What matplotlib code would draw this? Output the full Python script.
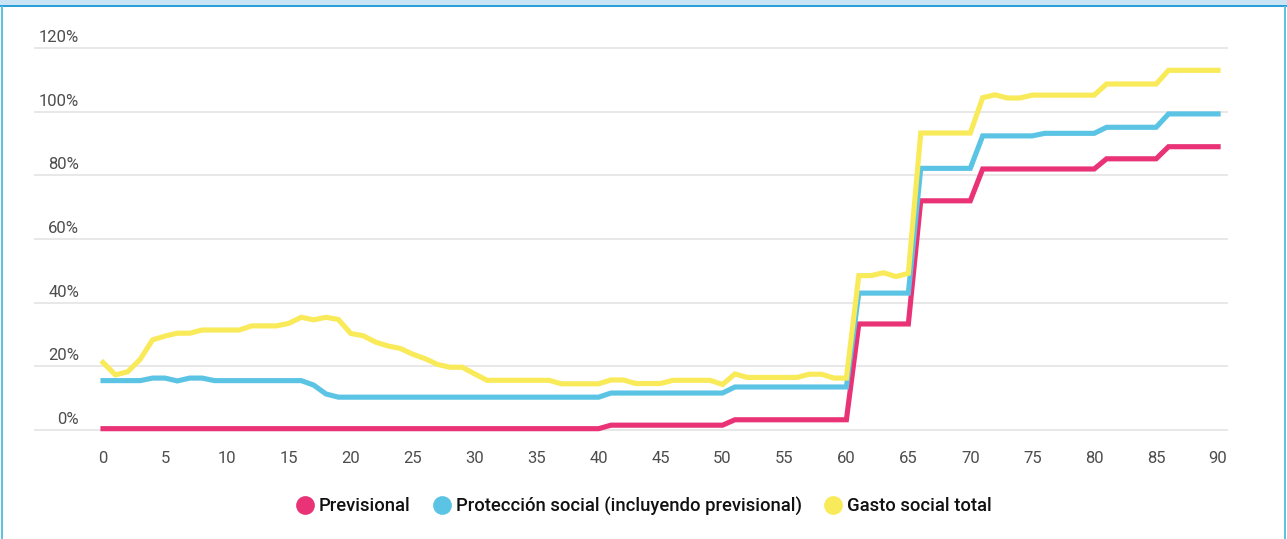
import matplotlib
matplotlib.use("Agg")
import matplotlib.pyplot as plt
from matplotlib.lines import Line2D
from matplotlib.patches import Rectangle

plt.rcParams["font.family"] = ["Roboto", "DejaVu Sans"]

# edad (0 a 90) y gasto como % del ingreso
ages = list(range(91))

previsional = [
    0.4, 0.4, 0.4, 0.4, 0.4, 0.4, 0.4, 0.4, 0.4, 0.4,
    0.4, 0.4, 0.4, 0.4, 0.4, 0.4, 0.4, 0.4, 0.4, 0.4,
    0.4, 0.4, 0.4, 0.4, 0.4, 0.4, 0.4, 0.4, 0.4, 0.4,
    0.4, 0.4, 0.4, 0.4, 0.4, 0.4, 0.4, 0.4, 0.4, 0.4,
    0.4, 1.5, 1.5, 1.5, 1.5, 1.5, 1.5, 1.5, 1.5, 1.5,
    1.5, 3.2, 3.2, 3.2, 3.2, 3.2, 3.2, 3.2, 3.2, 3.2,
    3.2, 33.3, 33.3, 33.3, 33.3, 33.3, 72.0, 72.0, 72.0, 72.0,
    72.0, 82.0, 82.0, 82.0, 82.0, 82.0, 82.0, 82.0, 82.0, 82.0,
    82.0, 85.2, 85.2, 85.2, 85.2, 85.2, 89.0, 89.0, 89.0, 89.0,
    89.0,
]

proteccion = [
    15.5, 15.5, 15.5, 15.5, 16.3, 16.3, 15.4, 16.3, 16.3, 15.5,
    15.5, 15.5, 15.5, 15.5, 15.5, 15.5, 15.5, 14.1, 11.3, 10.3,
    10.3, 10.3, 10.3, 10.3, 10.3, 10.3, 10.3, 10.3, 10.3, 10.3,
    10.3, 10.3, 10.3, 10.3, 10.3, 10.3, 10.3, 10.3, 10.3, 10.3,
    10.3, 11.6, 11.6, 11.6, 11.6, 11.6, 11.6, 11.6, 11.6, 11.6,
    11.6, 13.5, 13.5, 13.5, 13.5, 13.5, 13.5, 13.5, 13.5, 13.5,
    13.5, 43.0, 43.0, 43.0, 43.0, 43.0, 82.2, 82.2, 82.2, 82.2,
    82.2, 92.4, 92.4, 92.4, 92.4, 92.4, 93.2, 93.2, 93.2, 93.2,
    93.2, 95.1, 95.1, 95.1, 95.1, 95.1, 99.3, 99.3, 99.3, 99.3,
    99.3,
]

gasto_total = [
    21.2, 17.3, 18.3, 22.2, 28.3, 29.5, 30.4, 30.4, 31.4, 31.4,
    31.4, 31.4, 32.7, 32.7, 32.7, 33.5, 35.4, 34.6, 35.4, 34.7,
    30.3, 29.6, 27.6, 26.4, 25.6, 23.8, 22.4, 20.6, 19.7, 19.7,
    17.6, 15.6, 15.6, 15.6, 15.6, 15.6, 15.6, 14.5, 14.5, 14.5,
    14.5, 15.7, 15.7, 14.6, 14.6, 14.6, 15.6, 15.6, 15.6, 15.6,
    14.3, 17.6, 16.5, 16.5, 16.5, 16.5, 16.5, 17.5, 17.5, 16.3,
    16.3, 48.5, 48.5, 49.4, 48.2, 49.2, 93.3, 93.3, 93.3, 93.3,
    93.3, 104.4, 105.3, 104.3, 104.3, 105.2, 105.2, 105.2, 105.2, 105.2,
    105.2, 108.7, 108.7, 108.7, 108.7, 108.7, 113.0, 113.0, 113.0, 113.0,
    113.0,
]

series_names = ["Previsional", "Protección social (incluyendo previsional)", "Gasto social total"]
colors = ["#E93376", "#5BC4E4", "#F9EA5A"]
x_ticks = list(range(0, 91, 5))
y_ticks = list(range(0, 121, 20))

W, H = 1287, 539
fig = plt.figure(figsize=(W / 100, H / 100), dpi=100)

# marco azul del contenedor
fig.patches.append(Rectangle((0, 1 - 5 / H), 1, 5 / H, transform=fig.transFigure,
                             facecolor="#C9E5F5", edgecolor="none"))
fig.patches.append(Rectangle((0, 1 - 6.5 / H), 1, 2 / H, transform=fig.transFigure,
                             facecolor="#2B9FD8", edgecolor="none"))
fig.patches.append(Rectangle((1 / W, 0), 2 / W, 1 - 6 / H, transform=fig.transFigure,
                             facecolor="#5BC4E4", edgecolor="none"))
fig.patches.append(Rectangle((1 - 3 / W, 0), 2 / W, 1 - 6 / H, transform=fig.transFigure,
                             facecolor="#5BC4E4", edgecolor="none"))

ax = fig.add_axes([34 / W, (H - 439.5) / H, 1194 / W, 401 / H])
ax.set_xlim(-5.57, 90.8)
ax.set_ylim(-3, 123)

for v in y_ticks:
    ax.axhline(v, color="#E6E6E6", lw=1.3, zorder=0)
    ax.text(0.0377, v + 1.9, f"{v}%", transform=ax.get_yaxis_transform(),
            ha="right", va="baseline", fontsize=12, color="#4D4D4D")

for vals, c in zip([previsional, proteccion, gasto_total], colors):
    ax.plot(ages, vals, color=c, lw=3.7, solid_joinstyle="miter", solid_capstyle="projecting")

ax.set_xticks(x_ticks)
ax.set_xticklabels([str(t) for t in x_ticks])
ax.set_yticks([])
ax.tick_params(axis="x", length=0, pad=8, labelsize=12, labelcolor="#4D4D4D")
for s in ax.spines.values():
    s.set_visible(False)

handles = [Line2D([], [], ls="none", marker="o", markersize=13.5, markerfacecolor=c,
                  markeredgecolor="none") for c in colors]
fig.legend(handles, series_names, loc="center", bbox_to_anchor=(0.5, (H - 506) / H),
           ncol=3, frameon=False, handlelength=1.0, handletextpad=0.25,
           columnspacing=1.2, borderpad=0,
           prop={"family": ["Roboto", "DejaVu Sans"], "size": 13.3, "weight": "medium"},
           labelcolor="#111111")

fig.savefig("out.png", dpi=100)
